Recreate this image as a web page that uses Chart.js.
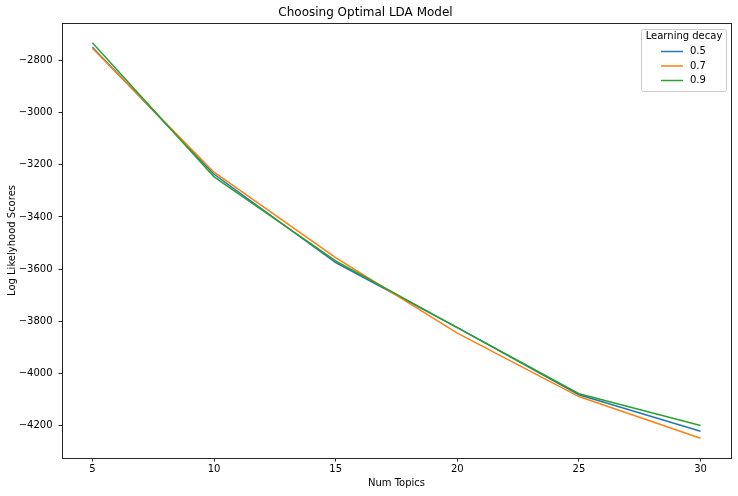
<!DOCTYPE html>
<html>
<head>
<meta charset="utf-8">
<script src="https://cdn.jsdelivr.net/npm/chart.js@4.4.0/dist/chart.umd.min.js"></script>
<style>
  html, body { margin: 0; padding: 0; background: #fff; }
  #wrap { width: 738px; height: 496px; }
</style>
</head>
<body>
<div id="wrap"><canvas id="ldaChart" width="738" height="496"></canvas></div>
<script>
// number of topics tried
var numTopics = [5, 10, 15, 20, 25, 30];
// log likelihood per learning decay
var decay05 = [-2748, -3236, -3575, -3825, -4083, -4223];
var decay07 = [-2752, -3228, -3556, -3846, -4090, -4250];
var decay09 = [-2731, -3246, -3569, -3825, -4079, -4201];
var decayLabels = ['0.5', '0.7', '0.9'];
var xTicks = [5, 10, 15, 20, 25, 30];
var yTicks = [-4200, -4000, -3800, -3600, -3400, -3200, -3000, -2800];

var colors = ['#1f77b4', '#ff7f0e', '#2ca02c'];
var FONT = "'DejaVu Sans', sans-serif";

function toPoints(ys) {
    var pts = [];
    for (var i = 0; i < numTopics.length; i++) {
        pts.push({ x: numTopics[i], y: ys[i] });
    }
    return pts;
}

var allSeries = [decay05, decay07, decay09];
var datasets = [];
for (var i = 0; i < allSeries.length; i++) {
    datasets.push({
        label: decayLabels[i],
        data: toPoints(allSeries[i]),
        borderColor: colors[i],
        backgroundColor: colors[i],
        borderWidth: 1.5,
        pointRadius: 0,
        tension: 0,
        fill: false,
        order: allSeries.length - 1 - i
    });
}

// frame round the plot plus a matplotlib style legend box
var framePlugin = {
    id: 'frame',
    afterDatasetsDraw: function (chart) {
        var ctx = chart.ctx, a = chart.chartArea;
        ctx.save();
        ctx.strokeStyle = '#262626';
        ctx.lineWidth = 1;
        ctx.strokeRect(Math.round(a.left) + 0.5, Math.round(a.top) + 0.5,
            Math.round(a.right - a.left), Math.round(a.bottom - a.top));

        // legend
        var bx = 641.5, by = 29.5, bw = 85, bh = 62;
        ctx.fillStyle = 'rgba(255,255,255,0.8)';
        ctx.strokeStyle = '#cccccc';
        ctx.beginPath();
        ctx.roundRect(bx, by, bw, bh, 2);
        ctx.fill();
        ctx.stroke();
        ctx.fillStyle = '#000';
        ctx.font = '10px ' + FONT;
        ctx.textBaseline = 'middle';
        ctx.textAlign = 'center';
        ctx.fillText('Learning decay', bx + bw / 2, 36.5);
        ctx.textAlign = 'left';
        var ds = chart.data.datasets;
        for (var k = 0; k < ds.length; k++) {
            var yy = 51.5 + k * 14.5;
            ctx.strokeStyle = ds[k].borderColor;
            ctx.lineWidth = 1.5;
            ctx.beginPath();
            ctx.moveTo(661, yy);
            ctx.lineTo(683, yy);
            ctx.stroke();
            ctx.fillText(ds[k].label, 690, yy);
        }
        ctx.restore();
    }
};

var theChart = new Chart(document.getElementById('ldaChart'), {
    type: 'line',
    data: { datasets: datasets },
    plugins: [framePlugin],
    options: {
        responsive: false,
        animation: false,
        devicePixelRatio: 1,
        layout: { padding: { left: 0, right: 7, top: 0, bottom: 0 } },
        plugins: {
            legend: { display: false },
            tooltip: { enabled: false },
            title: {
                display: true,
                text: 'Choosing Optimal LDA Model',
                color: '#000',
                font: { family: FONT, size: 12, weight: 'normal' },
                padding: { top: 6, bottom: 2.6 }
            }
        },
        scales: {
            x: {
                type: 'linear',
                min: 3.75,
                max: 31.25,
                afterFit: function (s) { s.height = 38; },
                afterBuildTicks: function (s) {
                    s.ticks = xTicks.map(function (v) { return { value: v }; });
                },
                grid: { drawOnChartArea: false, tickLength: 3.5, color: '#262626', tickWidth: 1 },
                border: { display: false },
                ticks: {
                    color: '#000',
                    padding: 2,
                    maxRotation: 0,
                    font: { family: FONT, size: 10 },
                    callback: function (v) { return v; }
                },
                title: {
                    display: true,
                    text: 'Num Topics',
                    color: '#000',
                    font: { family: FONT, size: 10 },
                    padding: { top: 0, bottom: 7 }
                }
            },
            y: {
                type: 'linear',
                min: -4326,
                max: -2655,
                afterFit: function (s) { s.width = 62; },
                afterBuildTicks: function (s) {
                    s.ticks = yTicks.map(function (v) { return { value: v }; });
                },
                grid: { drawOnChartArea: false, tickLength: 3.5, color: '#262626', tickWidth: 1 },
                border: { display: false },
                ticks: {
                    color: '#000',
                    padding: 6,
                    font: { family: FONT, size: 10 },
                    callback: function (v) { return '\u2212' + Math.abs(v); }
                },
                title: {
                    display: true,
                    text: 'Log Likelyhood Scores',
                    color: '#000',
                    font: { family: FONT, size: 10 },
                    padding: { top: 6, bottom: 0 }
                }
            }
        }
    }
});
</script>
</body>
</html>
